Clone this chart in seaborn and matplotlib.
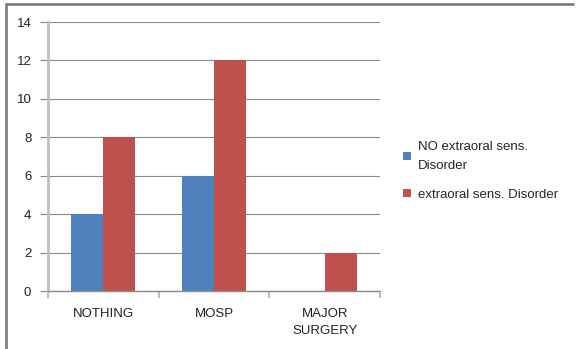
import matplotlib
matplotlib.use("Agg")
import matplotlib.pyplot as plt
from matplotlib.lines import Line2D
from matplotlib.patches import Patch
import seaborn as sns
import pandas as pd

categories = ["NOTHING", "MOSP", "MAJOR\nSURGERY"]
series_names = ["NO extraoral sens.\nDisorder", "extraoral sens. Disorder"]
no_disorder = [4, 6, 0]
with_disorder = [8, 12, 2]
y_ticks = [0, 2, 4, 6, 8, 10, 12, 14]
colors = ["#4F81BD", "#C0504D"]

df = pd.DataFrame({
    "category": categories * 2,
    "series": [series_names[0]] * 3 + [series_names[1]] * 3,
    "value": no_disorder + with_disorder,
})

sns.set_theme(style="white")
plt.rcParams["font.family"] = ["Liberation Sans", "DejaVu Sans"]

fig = plt.figure(figsize=(5.85, 3.49), dpi=100)
ax = fig.add_axes([48 / 585, 1 - 291 / 349, (380 - 48) / 585, (291 - 22) / 349])

sns.barplot(data=df, x="category", y="value", hue="series", palette=colors,
            width=0.58, saturation=1, ax=ax, legend=False, linewidth=0)

ax.set_ylim(0, 14)
ax.set_xlim(-0.5, 2.5)
ax.set_yticks(y_ticks)
ax.set_yticklabels([str(v) for v in y_ticks], fontsize=9.5, color="#222222")
ax.tick_params(axis="x", labelsize=9.5, colors="#222222", length=0, pad=12)
for lbl in ax.get_xticklabels():
    lbl.set_linespacing(1.6)
ax.tick_params(axis="y", length=6, width=0.8, color="#888888", pad=6, left=True)
ax.set_xlabel("")
ax.set_ylabel("")

# category boundary ticks along the x axis
ax.set_xticks([-0.5, 0.5, 1.5, 2.5], minor=True)
ax.tick_params(axis="x", which="minor", length=5, width=1.5, color="#BFBFBF", bottom=True)

ax.yaxis.grid(True, color="#8C8C8C", linewidth=0.8)
ax.set_axisbelow(True)
for side in ["top", "right"]:
    ax.spines[side].set_visible(False)
ax.spines["left"].set_color("#BFBFBF")
ax.spines["left"].set_linewidth(2)
ax.spines["bottom"].set_color("#8C8C8C")
ax.spines["bottom"].set_linewidth(1)

handles = [Patch(facecolor=c, edgecolor="none") for c in colors]
leg = fig.legend(handles, series_names, loc="upper left",
                 bbox_to_anchor=(398 / 585, 1 - 136 / 349), frameon=False,
                 fontsize=9.5, handlelength=0.6, handleheight=0.6, handletextpad=0.5,
                 labelspacing=1.3, borderaxespad=0)
for t in leg.get_texts():
    t.set_linespacing(1.7)

# outer frame lines along left and top
fig.add_artist(Line2D([6 / 585, 6 / 585], [0, 1 - 4 / 349], transform=fig.transFigure,
                      color="#808080", linewidth=2))
fig.add_artist(Line2D([6 / 585, 573 / 585], [1 - 4 / 349, 1 - 4 / 349],
                      transform=fig.transFigure, color="#808080", linewidth=2))

fig.savefig("out.png", dpi=100)
